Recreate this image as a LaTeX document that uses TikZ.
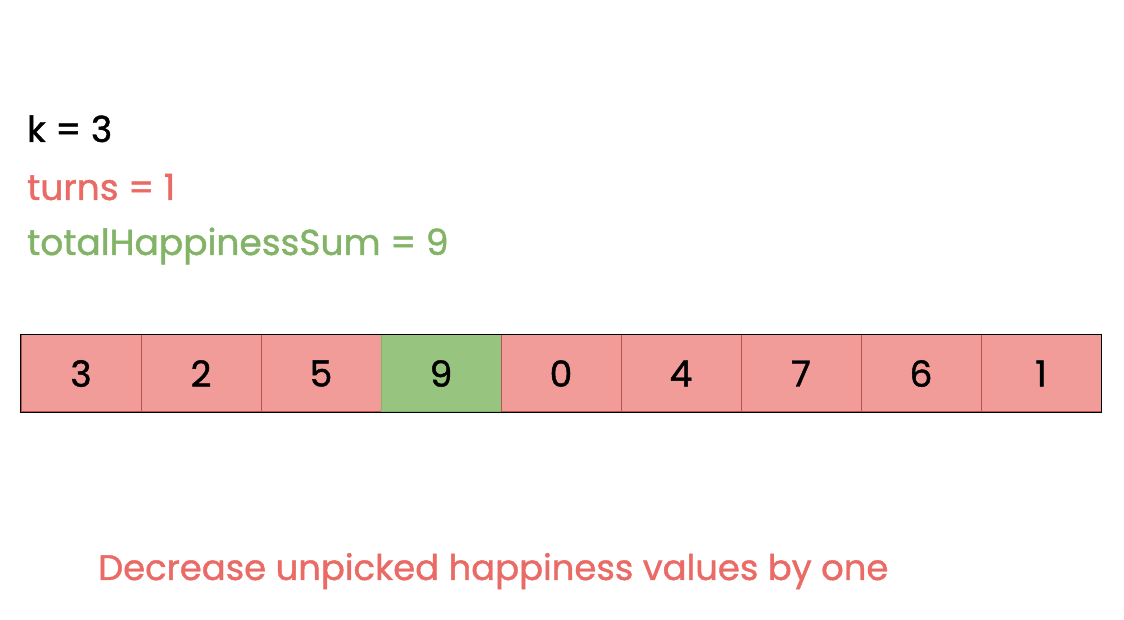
\documentclass[tikz,border=0pt]{standalone}
\usepackage{fontspec}
\setmainfont{Poppins}[FakeBold=1.2]
\definecolor{cellred}{HTML}{F19C99}
\definecolor{cellredline}{HTML}{B85450}
\definecolor{cellgreen}{HTML}{97C47F}
\definecolor{cellgreenline}{HTML}{82B366}
\definecolor{txtred}{HTML}{EA6B66}
\definecolor{txtgreen}{HTML}{82B366}
\tikzset{
  cell/.style={draw=cellredline, fill=cellred, line width=1pt, minimum width=120pt, minimum height=77pt, inner sep=0pt, font=\fontsize{36}{42}\selectfont, anchor=center},
  pickcell/.style={cell, draw=cellgreenline, fill=cellgreen},
  lbl/.style={anchor=base west, inner sep=0pt, font=\fontsize{36}{42}\selectfont}
}
\begin{document}
\begin{tikzpicture}[x=1pt,y=1pt]
\useasboundingbox (0,0) rectangle (1124,620);
\fill[white] (0,0) rectangle (1124,620);
\node[lbl] (k) at (27,478) {k = 3};
\node[lbl, text=txtred] (turns) at (27,420) {turns = 1};
\node[lbl, text=txtgreen] (sum) at (27,365) {totalHappinessSum = 9};
\node[cell] (c0) at (81,246.5) {3};
\node[cell] (c1) at (201,246.5) {2};
\node[cell] (c2) at (321,246.5) {5};
\node[pickcell] (c3) at (441,246.5) {9};
\node[cell] (c4) at (561,246.5) {0};
\node[cell] (c5) at (681,246.5) {4};
\node[cell] (c6) at (801,246.5) {7};
\node[cell] (c7) at (921,246.5) {6};
\node[cell] (c8) at (1041,246.5) {1};
\draw[black, line width=1pt] (c0.north west) rectangle (c8.south east);
\node[lbl, text=txtred, font=\fontsize{35.4}{42}\selectfont] (note) at (98,40) {Decrease unpicked happiness values by one};
\end{tikzpicture}
\end{document}
